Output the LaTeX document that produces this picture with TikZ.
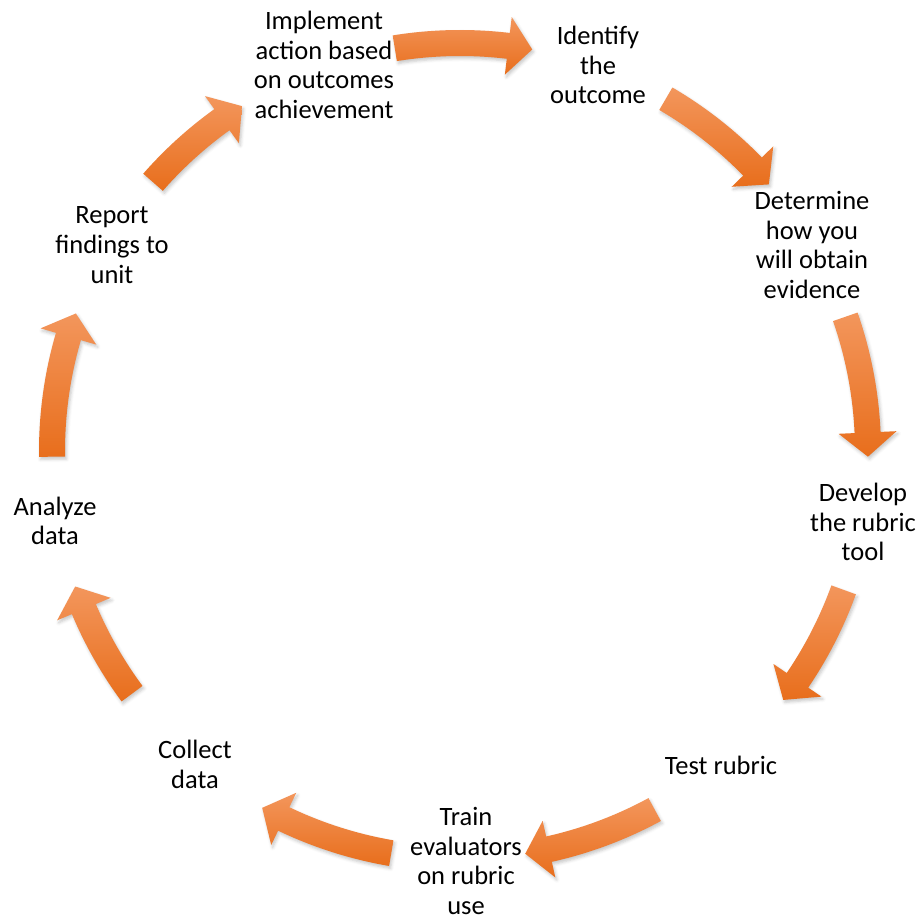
\documentclass[tikz,border=0pt]{standalone}
\usepackage{fontspec}
\setmainfont{Carlito}
\usetikzlibrary{shadows.blur}
\definecolor{arrowlight}{RGB}{243,150,92}
\definecolor{arrowmid}{RGB}{240,127,46}
\definecolor{arrowdark}{RGB}{232,110,28}
% #1 = tail angle, #2 = tip angle (clockwise arrow on circle centred at c)
\newcommand\cycarr[2]{%
  \pgfmathsetmacro\aTail{#1}%
  \pgfmathsetmacro\aHead{#2+3.4}%
  \pgfmathsetmacro\aTip{#2}%
  \path[cyc,shift={(c)}] (\aTail:421) arc[start angle=\aTail,end angle=\aHead,radius=421]
    -- (\aHead:437) -- (\aTip:408) -- (\aHead:379) -- (\aHead:395)
    arc[start angle=\aHead,end angle=\aTail,radius=395] -- cycle;}
\begin{document}
\begin{tikzpicture}[x=1pt,y=1pt,
  lbl/.style={font=\fontsize{26.5}{29.8}\selectfont, align=center, text=black, inner sep=0pt},
  cyc/.style={top color=arrowlight, middle color=arrowmid, bottom color=arrowdark, draw=none,
    blur shadow={shadow xshift=1.5pt, shadow yshift=-2.5pt, shadow blur radius=3pt, shadow opacity=22}}]
\useasboundingbox (0,0) rectangle (918,915);
\coordinate (c) at (460,464);
% labels
\node[lbl] (n1) at (598,850) {Identify\\the\\outcome};
\node[lbl] (n2) at (812,670) {Determine\\how you\\will obtain\\evidence};
\node[lbl] (n3) at (863,393) {Develop\\the rubric\\tool};
\node[lbl] (n4) at (721,150) {Test rubric};
\node[lbl] (n5) at (466,54) {Train\\evaluators\\on rubric\\use};
\node[lbl] (n6) at (195,151) {Collect\\data};
\node[lbl] (n7) at (55,394) {Analyze\\data};
\node[lbl] (n8) at (112,670) {Report\\findings to\\unit};
\node[lbl] (n9) at (324,850) {Implement\\action based\\on outcomes\\achievement};
% arrows
\cycarr{99.2}{79.8}
\cycarr{59.7}{40.8}
\cycarr{19.2}{-0.8}
\cycarr{-19.9}{-37.6}
\cycarr{-61.5}{-80.8}
\cycarr{-99.7}{-119}
\cycarr{-143.5}{-160.6}
\cycarr{180.8}{160.3}
\cycarr{138.8}{122.3}
\end{tikzpicture}
\end{document}
